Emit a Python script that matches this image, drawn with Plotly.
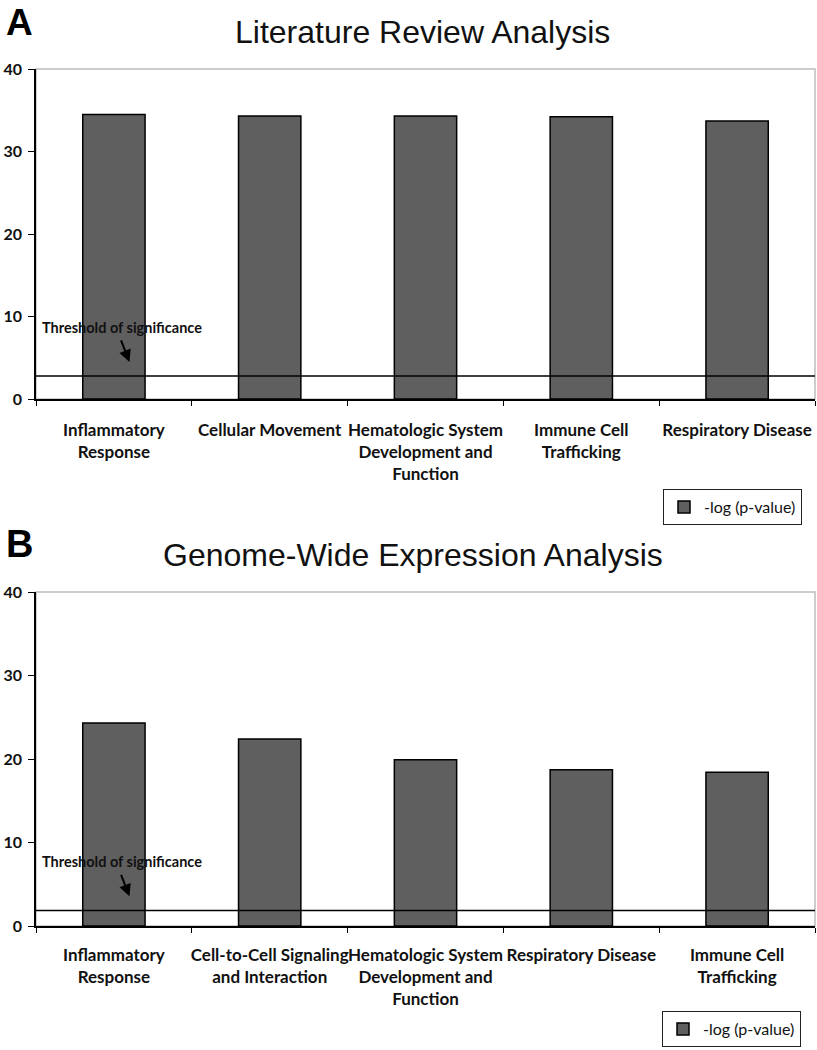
import plotly.graph_objects as go

# ---- data ----
cats_a = ["Inflammatory Response", "Cellular Movement", "Hematologic System Development and Function",
          "Immune Cell Trafficking", "Respiratory Disease"]
labels_a = ["Inflammatory<br>Response", "Cellular Movement", "Hematologic System<br>Development and<br>Function",
            "Immune Cell<br>Trafficking", "Respiratory Disease"]
vals_a = [34.5, 34.3, 34.3, 34.2, 33.7]
threshold_a = 2.8

cats_b = ["Inflammatory Response", "Cell-to-Cell Signaling and Interaction",
          "Hematologic System Development and Function", "Respiratory Disease", "Immune Cell Trafficking"]
labels_b = ["Inflammatory<br>Response", "Cell-to-Cell Signaling<br>and Interaction",
            "Hematologic System<br>Development and<br>Function", "Respiratory Disease", "Immune Cell<br>Trafficking"]
vals_b = [24.3, 22.4, 19.9, 18.7, 18.4]
threshold_b = 1.85

y_ticks = [0, 10, 20, 30, 40]
series_name = "-log (p-value)"
titles = ["Literature Review Analysis", "Genome-Wide Expression Analysis"]
panel_letters = ["A", "B"]

BAR_COLOR = "#5f5f5f"
LBL_FONT = "Lato"
W, H = 817, 1050

fig = go.Figure()
fig.add_trace(go.Bar(x=cats_a, y=vals_a, xaxis="x", yaxis="y", name=series_name, legend="legend",
                     showlegend=True,
                     marker=dict(color=BAR_COLOR, line=dict(color="black", width=1.5))))
fig.add_trace(go.Bar(x=cats_b, y=vals_b, xaxis="x2", yaxis="y2", name=series_name, legend="legend2",
                     showlegend=True,
                     marker=dict(color=BAR_COLOR, line=dict(color="black", width=1.5))))

xdom = [36 / W, 815 / W]
ydom_a = [1 - 399 / H, 1 - 69 / H]
ydom_b = [1 - 926 / H, 1 - 592 / H]

def xax(cats, labels, anchor, standoff):
    return dict(domain=xdom, anchor=anchor, type="category", categoryorder="array", categoryarray=cats,
                tickmode="array", tickvals=cats, ticktext=labels, automargin=False, tickangle=0,
                showline=True, linecolor="black", linewidth=1.5, ticks="outside", tickson="boundaries",
                ticklen=5, tickcolor="black", tickwidth=1.2, showgrid=False, zeroline=False,
                ticklabelstandoff=standoff,
                tickfont=dict(family=LBL_FONT, size=17, color="#111111", weight="bold"))

def yax(dom, anchor):
    return dict(domain=dom, anchor=anchor, range=[0, 40], tickvals=y_ticks, showline=True, linecolor="black",
                linewidth=1.5, ticks="outside", ticklen=6, tickcolor="black", showgrid=False, zeroline=False,
                ticklabelstandoff=3, automargin=False,
                tickfont=dict(family=LBL_FONT, size=16, color="#111111", weight="bold"))

legend_common = dict(xanchor="left", yanchor="top", bordercolor="#222222", borderwidth=1,
                     bgcolor="white", font=dict(family=LBL_FONT, size=16, color="#111111"), itemwidth=30)

fig.update_layout(
    width=W, height=H, margin=dict(l=0, r=0, t=0, b=0, autoexpand=False),
    paper_bgcolor="white", plot_bgcolor="white", bargap=0.6, showlegend=True,
    xaxis=xax(cats_a, labels_a, "y", 15), yaxis=yax(ydom_a, "x"),
    xaxis2=xax(cats_b, labels_b, "y2", 13), yaxis2=yax(ydom_b, "x2"),
    legend=dict(x=663 / W, y=1 - 489 / H, **legend_common),
    legend2=dict(x=662 / W, y=1 - 1011 / H, **legend_common),
)

for i, (xr, yr, thr) in enumerate([("x", "y", threshold_a), ("x2", "y2", threshold_b)]):
    # gray frame (top/right)
    fig.add_shape(type="rect", xref=f"{xr} domain", yref=f"{yr} domain", x0=0, x1=1, y0=0, y1=1,
                  line=dict(color="#bdbdbd", width=1.5), layer="below")
    # threshold line
    fig.add_shape(type="line", xref=f"{xr} domain", yref=yr, x0=0, x1=1, y0=thr, y1=thr,
                  line=dict(color="black", width=1.5), layer="above")
    fig.add_annotation(text="Threshold of significance", xref=f"{xr} domain", yref=yr, x=0.005, y=thr + 5.9,
                       xanchor="left", yanchor="middle", showarrow=False,
                       font=dict(family=LBL_FONT, size=14.5, color="#111111", weight="bold"))
    fig.add_annotation(text="", xref=xr, yref=yr, x=0.1, y=thr + 1.7, ax=-9, ay=-23, showarrow=True,
                       arrowhead=2, arrowsize=1.2, arrowwidth=2, arrowcolor="black")

fig.add_annotation(text="<b>A</b>", xref="paper", yref="paper", x=4 / W, y=1.0, xanchor="left",
                   yanchor="top", showarrow=False, font=dict(family="Liberation Sans", size=37, color="black"))
fig.add_annotation(text="<b>B</b>", xref="paper", yref="paper", x=4 / W, y=1 - 544 / H, xanchor="left",
                   yanchor="middle", showarrow=False, font=dict(family="Liberation Sans", size=38, color="black"))
fig.add_annotation(text=titles[0], xref="paper", yref="paper", x=422 / W, y=1 - 32 / H, xanchor="center",
                   yanchor="middle", showarrow=False, font=dict(family="Liberation Sans", size=32, color="#111111"))
fig.add_annotation(text=titles[1], xref="paper", yref="paper", x=413 / W, y=1 - 555 / H, xanchor="center",
                   yanchor="middle", showarrow=False, font=dict(family="Liberation Sans", size=32, color="#111111"))

fig.write_html("out.html", config={"displayModeBar": False},
               post_script="document.body.style.margin='0';document.body.style.overflow='hidden';")
